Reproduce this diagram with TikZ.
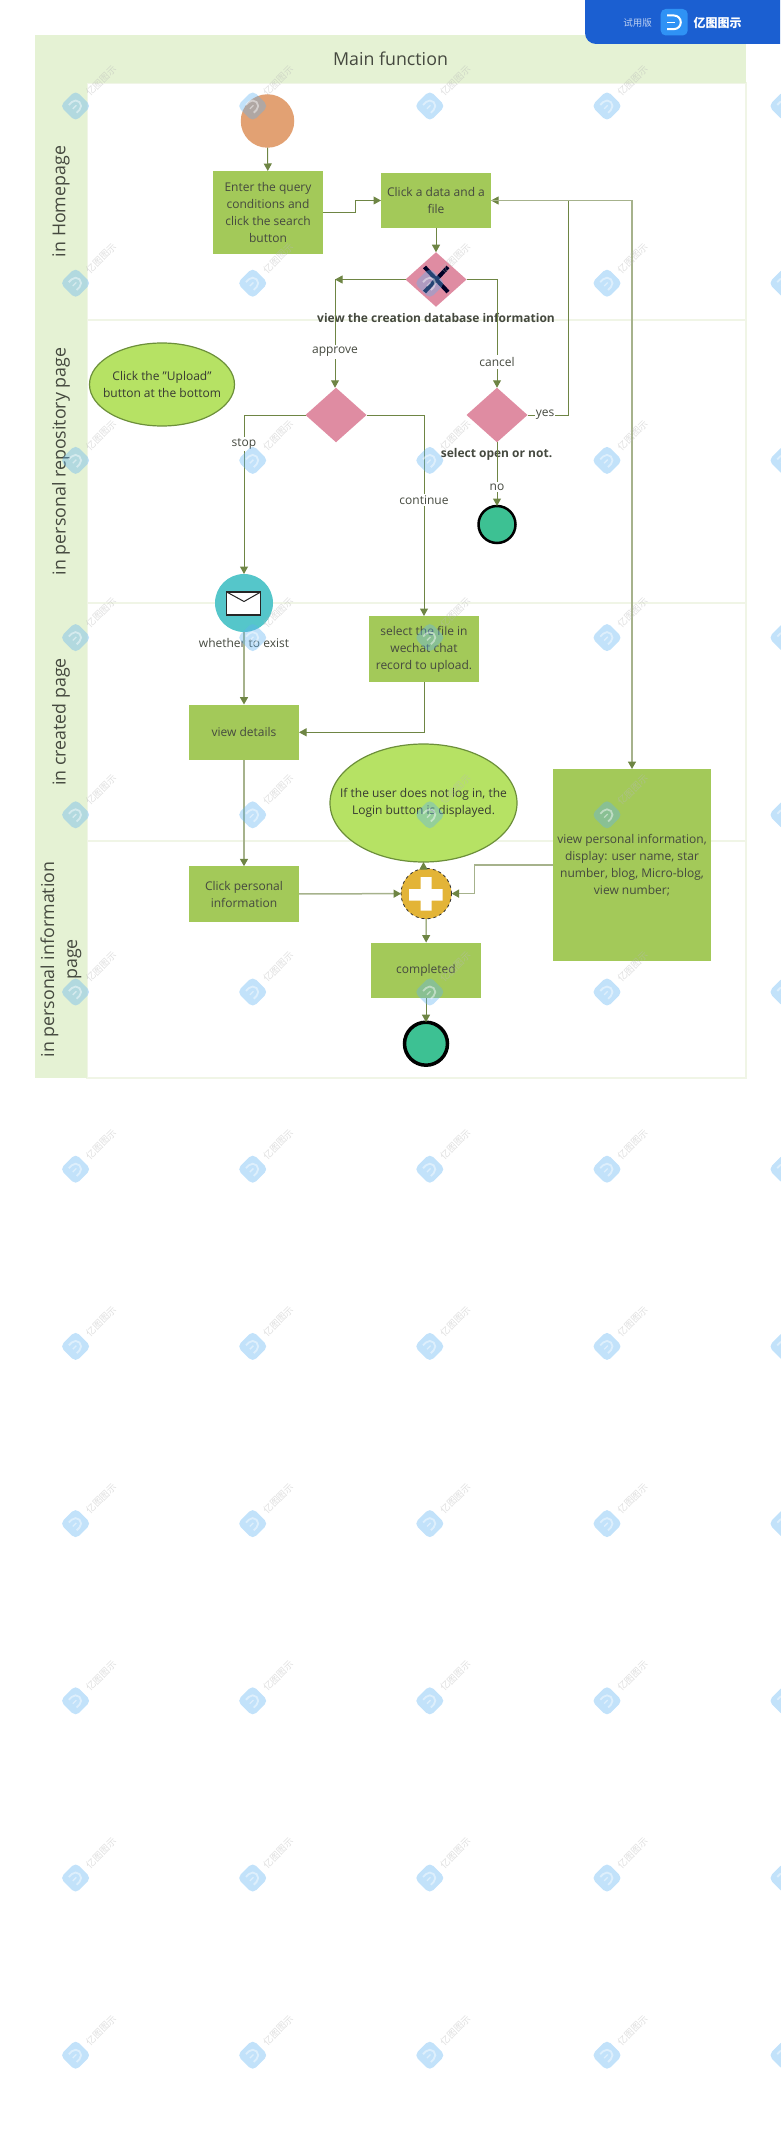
\documentclass[tikz,border=0pt]{standalone}
\usepackage{fontspec}
\setmainfont{Open Sans}
\newfontfamily\cjkfont{Noto Sans CJK SC}
\usetikzlibrary{positioning, arrows.meta, shapes.geometric}

\definecolor{lanetint}{HTML}{E5F2D4}
\definecolor{laneline}{HTML}{F0F5E6}
\definecolor{boxgreen}{HTML}{A3C959}
\definecolor{ovalgreen}{HTML}{B6E264}
\definecolor{ovalline}{HTML}{6C8F3A}
\definecolor{flowline}{HTML}{6E8544}
\definecolor{softline}{HTML}{A6B28C}
\definecolor{gatepink}{HTML}{DF8CA2}
\definecolor{startorange}{HTML}{E2A173}
\definecolor{mailteal}{HTML}{55C6CA}
\definecolor{plusgold}{HTML}{E3B437}
\definecolor{endgreen}{HTML}{3DC193}
\definecolor{bannerblue}{HTML}{1B5FD1}
\definecolor{logoblue}{HTML}{2F92F5}
\definecolor{inktext}{HTML}{45493F}
\definecolor{markwash}{HTML}{5FB2F2}

\begin{document}
\begin{tikzpicture}[
  x=1pt, y=-1pt,
  inner sep=0pt, outer sep=0pt,
  headerbar/.style={rectangle, fill=lanetint, minimum width=711pt, minimum height=48pt, text=inktext, font=\fontsize{17.8}{20}\selectfont},
  lanetab/.style={rectangle, fill=lanetint, rotate=90, minimum height=52pt, align=center, text=inktext, font=\fontsize{17.8}{23}\selectfont},
  lanebody/.style={rectangle, draw=laneline, line width=1.1pt, minimum width=659pt},
  greenbox/.style={rectangle, fill=boxgreen, minimum width=110pt, minimum height=55.5pt, align=center, text=inktext, font=\fontsize{12}{17}\selectfont},
  gate/.style={diamond, fill=gatepink, minimum width=61pt, minimum height=54.5pt},
  greenoval/.style={ellipse, fill=ovalgreen, draw=ovalline, line width=1.2pt},
  ovaltext/.style={align=center, text=inktext!80!black, font=\fontsize{12}{17}\selectfont},
  endmark/.style={circle, fill=endgreen, draw=black},
  arrow/.style={-{Stealth[inset=0pt, length=7.5pt, width=8pt, color=flowline]}, draw=flowline, line width=1pt},
  softarrow/.style={arrow, draw=softline, line width=1.5pt},
  flowtext/.style={text=inktext, font=\fontsize{12}{17}\selectfont},
  edgetext/.style={flowtext, fill=white, inner xsep=1pt, inner ysep=2pt},
  boldtext/.style={text=inktext, font=\fontsize{12}{17}\selectfont\bfseries}
]
\useasboundingbox (0,0) rectangle (780,2132);

% Lanes
\node[lanebody, minimum height=237pt] (homebody) at (416.5,201.5) {};
\node[lanebody, minimum height=283pt] (repobody) at (416.5,461.5) {};
\node[lanebody, minimum height=238pt] (createdbody) at (416.5,722) {};
\node[lanebody, minimum height=237pt] (infobody) at (416.5,959.5) {};
\node[headerbar] (header) at (390.5,59) {Main function};
\node[lanetab, minimum width=237pt] (hometab) at (61,201.5) {in Homepage};
\node[lanetab, minimum width=283pt] (repotab) at (61,461.5) {in personal repository page};
\node[lanetab, minimum width=238pt] (createdtab) at (61,722) {in created page};
\node[lanetab, minimum width=237pt] (infotab) at (61,959.5) {in personal information\\page};

% Homepage nodes
\node[circle, fill=startorange, minimum size=53.5pt] (start) at (267.5,121) {};
\node[greenbox, minimum height=83pt] (querybox) at (268,212.5) {Enter the query\\conditions and\\click the search\\button};
\node[greenbox] (filebox) at (436,200.5) {Click a data and a\\file};
\node[gate] (xgate) at (436,279.5) {};
\node[boldtext] (viewlabel) at (436,318) {view the creation database information};

% Repository nodes
\node[greenoval, minimum width=145pt, minimum height=83pt, label={[ovaltext]center:{Click the "Upload"\\button at the bottom}}] (uploadoval) at (162,384.5) {};
\node[gate] (approvegate) at (336,415) {};
\node[gate] (opengate) at (497,415) {};
\node[boldtext] (openlabel) at (496.5,454) {select open or not.};
\node[endmark, line width=2.5pt, minimum size=37pt] (openend) at (497,524.5) {};

% Created page nodes
\node[circle, fill=mailteal, minimum size=58pt] (mail) at (244,603) {};
\node[flowtext] (existlabel) at (244,643) {whether to exist};
\node[greenbox, minimum height=66pt] (selectbox) at (424,649) {select the file in\\wechat chat\\record to upload.};
\node[greenbox] (viewbox) at (244,732.3) {view details};
\node[greenoval, minimum width=187pt, minimum height=118pt, label={[ovaltext]center:{If the user does not log in, the\\Login button is displayed.}}] (loginoval) at (423.5,803) {};
\node[greenbox, minimum width=158pt, minimum height=192pt] (infobox) at (632,865) {view personal information,\\display: user name, star\\number, blog, Micro-blog,\\view number;};

% Personal information nodes
\node[greenbox] (clickbox) at (244,894) {Click personal\\information};
\node[circle, fill=plusgold, draw=black!80, dashed, line width=.8pt, minimum size=50.5pt] (plusgate) at (426.3,893.6) {};
\node[greenbox] (donebox) at (426,970.3) {completed};
\node[endmark, line width=3.5pt, minimum size=43pt] (doneend) at (426,1043.7) {};

% Marks inside the gates
\draw[line width=4pt, draw=black!85!blue] (424.5,267) -- (448,292) (448,267) -- (424.5,292);
\fill[white] (409,889) rectangle (442.7,900.7) (420.7,877) rectangle (431.5,910.7);
\draw[fill=white, draw=black!85, line width=1.1pt] (226.7,592) rectangle (260.7,615);
\draw[draw=black!85, line width=1pt] (226.7,592) -- (244,601.5) -- (260.7,592);

% Turning points
\coordinate (approvecorner) at (335,279.5);
\coordinate (cancelcorner) at (497,279.5);
\coordinate (yescorner) at (568.7,200.5);
\coordinate (infocorner) at (632,200.5);

% Arrows
\draw[arrow] (start) -- (querybox);
\draw[arrow] (querybox.east) -- ++(32,0) |- (filebox.west);
\draw[arrow] (filebox) -- (xgate);
\draw[arrow] (xgate.west) -- (approvecorner);
\draw[arrow] (approvecorner) -- (approvegate.north -| approvecorner);
\draw[arrow] (xgate.east) -- (cancelcorner) -- (opengate.north);
\draw[arrow] (opengate.east) -| (yescorner) -- (filebox.east);
\draw[arrow] (opengate) -- (openend);
\draw[softarrow] (filebox.east) -- (infocorner) -- (infobox.north);
\draw[arrow] (approvegate.west) -| (mail.north);
\draw[arrow] (approvegate.east) -| (selectbox.north);
\draw[softarrow] (mail) -- (viewbox);
\draw[arrow] (selectbox.south) |- (viewbox.east);
\draw[softarrow] (viewbox) -- (clickbox);
\draw[softarrow] (clickbox) -- (plusgate);
\draw[softarrow] (infobox.west) -- ++(-78.4,0) |- (plusgate.east);
\draw[arrow] (loginoval.south |- plusgate.north) -- (loginoval.south);
\draw[arrow] (plusgate) -- (donebox);
\draw[arrow] (donebox) -- (doneend);

% Labels on the arrows
\node[edgetext] (approvelabel) at (335,352) {approve};
\node[edgetext] (cancellabel) at (497,362) {cancel};
\node[edgetext] (yeslabel) at (545,415) {yes};
\node[edgetext] (stoplabel) at (244,444) {stop};
\node[edgetext] (continuelabel) at (424,500) {continue};
\node[edgetext] (nolabel) at (497,487) {no};

% Trial banner
\fill[bannerblue] (780,0) -- (585,0) [rounded corners=11pt] -- (585,44) [sharp corners] -- (780,44) -- cycle;
\fill[logoblue, rounded corners=5pt] (660.7,9) rectangle (687.7,35.5);
\draw[white, line width=2pt] (667,15.5) -- (674,15.5) arc[start angle=90, end angle=-90, radius=6.8pt] -- (667,29.1);
\draw[white, line width=1.5pt] (667,22.3) -- (675,22.3);
\node[text=white!70!bannerblue, font=\cjkfont\fontsize{9.5}{10}\selectfont] (triallabel) at (637.5,23) {试用版};
\node[text=white, font=\cjkfont\bfseries\fontsize{12}{13}\selectfont] (brandlabel) at (717.5,23) {亿图图示};

% Watermarks
\foreach \wmx in {75.6,252.7,429.8,607,784}
  \foreach \wmy in {106,283.2,460.4,637.6,814.8,992,1169.2,1346.4,1523.6,1700.8,1878,2055.2} {
    \begin{scope}[shift={(\wmx,\wmy)}, rotate=45]
      \fill[markwash, opacity=.38, rounded corners=5pt] (-11,-11) rectangle (11,11);
      \draw[white, opacity=.45, line width=1.8pt] (-4,-5.5) -- (0,-5.5) arc[start angle=90, end angle=-90, radius=5.5pt] -- (-4,5.5);
      \draw[white, opacity=.45, line width=1.3pt] (-4,0) -- (1,0);
    \end{scope}
  }
\foreach \wmx in {75.6,252.7,429.8,607}
  \foreach \wmy in {106,283.2,460.4,637.6,814.8,992,1169.2,1346.4,1523.6,1700.8,1878,2055.2}
    \node[rotate=45, opacity=.45, text=black!28, font=\cjkfont\fontsize{9.5}{10}\selectfont] (wm\wmx-\wmy) at (\wmx+25.5,\wmy-25) {亿图图示};

\end{tikzpicture}
\end{document}
